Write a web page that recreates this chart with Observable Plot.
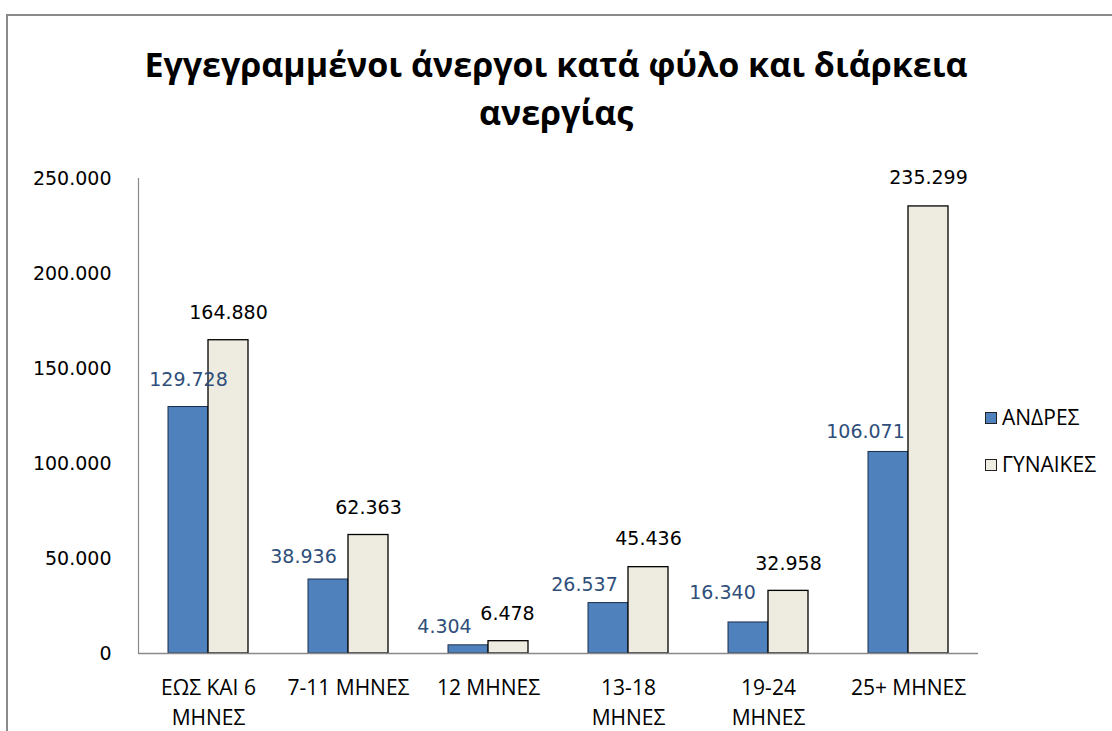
<!DOCTYPE html>
<html><head><meta charset="utf-8">
<script src="https://cdn.jsdelivr.net/npm/d3@7"></script>
<script src="https://cdn.jsdelivr.net/npm/@observablehq/plot@0.6"></script>
<style>
body{margin:0;background:#fff;}
#wrap{position:relative;width:1112px;height:731px;overflow:hidden;background:#fff;}
#border{position:absolute;left:6px;top:14px;width:1200px;height:800px;border:2px solid #8a8a8a;box-sizing:border-box;}
#title{position:absolute;left:0;top:40px;width:1112px;text-align:center;font-family:"Open Sans",sans-serif;font-weight:bold;font-size:34px;line-height:48px;color:#000;}
#chart{position:absolute;left:0;top:160px;}
.leg{position:absolute;left:985px;font-family:"Open Sans",sans-serif;font-size:21px;line-height:22px;color:#000;white-space:nowrap;}
.leg span{display:inline-block;width:10px;height:10px;border:1px solid #222;margin-right:5px;vertical-align:1px;}
</style>
</head><body>
<div id="wrap">
  <div id="border"></div>
  <div id="title">Εγγεγραμμένοι άνεργοι κατά φύλο και διάρκεια<br>ανεργίας</div>
  <div id="chart"></div>
  <div class="leg" id="leg0" style="top:406px"></div>
  <div class="leg" id="leg1" style="top:453px"></div>
</div>
<script>
const categories = ["ΕΩΣ ΚΑΙ 6\nΜΗΝΕΣ", "7-11 ΜΗΝΕΣ", "12 ΜΗΝΕΣ", "13-18\nΜΗΝΕΣ", "19-24\nΜΗΝΕΣ", "25+ ΜΗΝΕΣ"];
const series = ["ΑΝΔΡΕΣ", "ΓΥΝΑΙΚΕΣ"];
const men = [129728, 38936, 4304, 26537, 16340, 106071];
const women = [164880, 62363, 6478, 45436, 32958, 235299];
const yTicks = [0, 50000, 100000, 150000, 200000, 250000];
const colors = ["#4F81BD", "#EEECE1"];

const fmt = d3.formatLocale({decimal: ",", thousands: ".", grouping: [3], currency: ["", ""]}).format(",");

const menRows = categories.map((c, i) => ({cat: c, value: men[i], i}));
const womenRows = categories.map((c, i) => ({cat: c, value: women[i], i}));

const numFont = "DejaVu Sans";
const catFont = "Open Sans, sans-serif";

// label nudges (pixels) mirroring the manually placed labels of the original
const menNudge = [[-20, -27], [-45, -23], [-44, -18], [-44, -18], [-46, -30], [-43, -20]];
const womenNudge = [[20, -27], [20, -27], [19, -27], [20, -28], [20, -27], [20, -29]];

const labelMarks = (rows, nudge, fill) => rows.map((d, k) => Plot.text([d], {
  x: "cat", y: "value", text: r => fmt(r.value),
  dx: nudge[k][0], dy: nudge[k][1], fill, fontFamily: numFont, fontSize: 19
}));

const chart = Plot.plot({
  width: 1112,
  height: 571,
  marginTop: 18,
  marginBottom: 78,
  marginLeft: 138,
  marginRight: 134,
  style: {fontFamily: numFont, fontSize: "19px", color: "#000", background: "transparent", overflow: "visible"},
  x: {domain: categories, paddingInner: 60 / 140, paddingOuter: 30 / 140, axis: null},
  y: {domain: [0, 250000], ticks: yTicks, tickFormat: fmt, tickSize: 0, tickPadding: 27, label: null},
  marks: [
    Plot.ruleX([categories[0]], {y1: 0, y2: 250000, stroke: "#8a8a8a", strokeWidth: 1.2, dx: -70}),
    Plot.barY(menRows, {x: "cat", y: "value", fill: colors[0], stroke: "#1c2f4d", strokeWidth: 1, insetRight: 40}),
    Plot.barY(womenRows, {x: "cat", y: "value", fill: colors[1], stroke: "#000", strokeWidth: 1.3, insetLeft: 40}),
    Plot.ruleY([0], {stroke: "#8a8a8a", strokeWidth: 1.5}),
    ...labelMarks(menRows, menNudge, "#2f4f7a"),
    ...labelMarks(womenRows, womenNudge, "#000"),
    Plot.text(categories, {x: d => d, y: 0, text: d => d, dy: 20, lineAnchor: "top", lineHeight: 1.43, fill: "#000", fontFamily: catFont, fontSize: 21})
  ]
});
document.getElementById("chart").appendChild(chart);

document.getElementById("leg0").innerHTML = `<span style="background:${colors[0]}"></span>${series[0]}`;
document.getElementById("leg1").innerHTML = `<span style="background:${colors[1]}"></span>${series[1]}`;
</script>
</body></html>
